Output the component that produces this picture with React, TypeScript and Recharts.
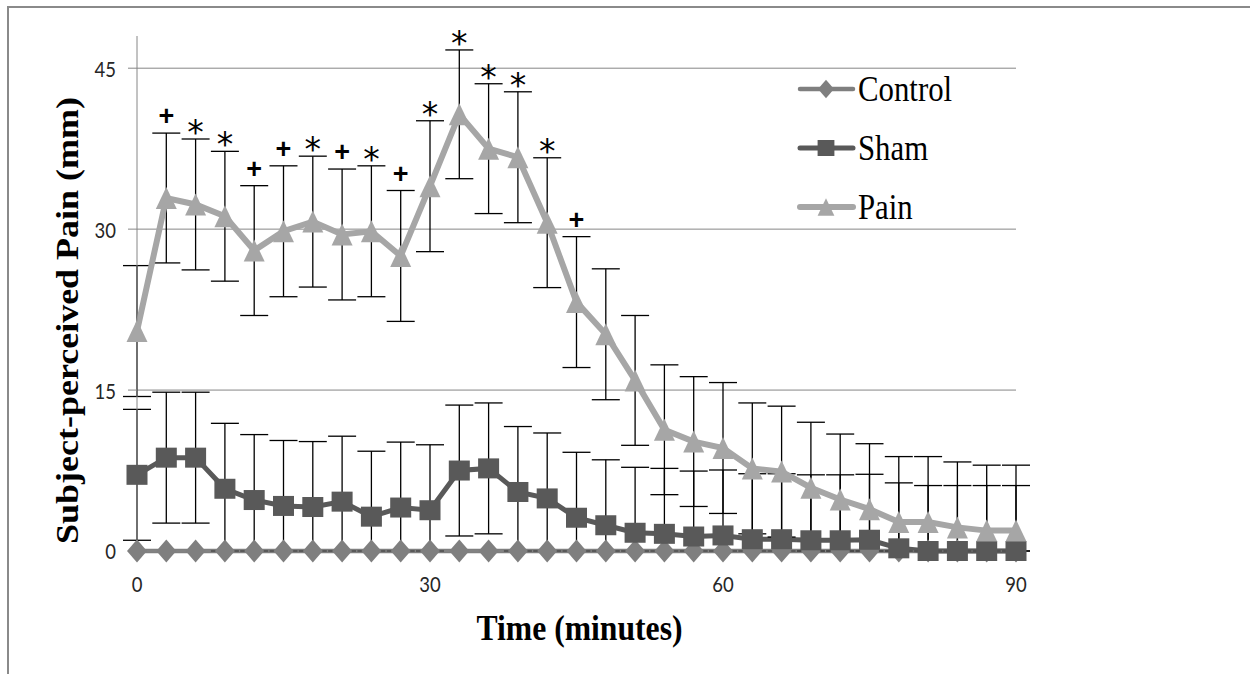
import React from 'react';
import { LineChart, Line, XAxis, YAxis, CartesianGrid, ErrorBar, LabelList, Legend } from 'recharts';

const minutes = [0, 3, 6, 9, 12, 15, 18, 21, 24, 27, 30, 33, 36, 39, 42, 45, 48, 51, 54, 57, 60, 63, 66, 69, 72, 75, 78, 81, 84, 87, 90];
const control = [0, 0, 0, 0, 0, 0, 0, 0, 0, 0, 0, 0, 0, 0, 0, 0, 0, 0, 0, 0, 0, 0, 0, 0, 0, 0, 0, 0, 0, 0, 0];
const sham = [7.1, 8.7, 8.7, 5.8, 4.75, 4.2, 4.1, 4.6, 3.2, 4.05, 3.8, 7.5, 7.7, 5.5, 4.9, 3.1, 2.4, 1.7, 1.6, 1.35, 1.45, 1.1, 1.1, 1.0, 1.0, 1.05, 0.25, 0, 0, 0, 0];
const shamSd = [6.1, 6.1, 6.1, 6.1, 6.1, 6.1, 6.1, 6.1, 6.1, 6.1, 6.1, 6.1, 6.1, 6.1, 6.1, 6.1, 6.1, 6.1, 6.1, 6.1, 6.1, 6.1, 6.1, 6.1, 6.1, 6.1, 6.1, 6.1, 6.1, 6.1, 6.1];
const pain = [20.5, 32.9, 32.3, 31.2, 28.0, 29.8, 30.7, 29.5, 29.8, 27.5, 34.0, 40.7, 37.5, 36.7, 30.6, 23.2, 20.2, 15.9, 11.3, 10.2, 9.6, 7.7, 7.4, 5.9, 4.8, 3.9, 2.7, 2.7, 2.2, 1.9, 1.9];
const painSd = [6.1, 6.05, 6.1, 6.05, 6.05, 6.1, 6.1, 6.1, 6.1, 6.1, 6.1, 6.0, 6.05, 6.1, 6.05, 6.1, 6.1, 6.05, 6.05, 6.05, 6.1, 6.1, 6.1, 6.1, 6.1, 6.1, 6.1, 6.1, 6.1, 6.1, 6.1];
const marks = ['', '+', '*', '*', '+', '+', '*', '+', '*', '+', '*', '*', '*', '*', '*', '+', '', '', '', '', '', '', '', '', '', '', '', '', '', '', ''];
const xTicks = [0, 30, 60, 90];
const yTicks = [0, 15, 30, 45];
const gridValues = [15, 30, 45];
const seriesNames = ['Control', 'Sham', 'Pain'];

const data = minutes.map((m, i) => ({
  m,
  control: control[i],
  sham: sham[i],
  shamErr: [Math.min(sham[i], shamSd[i]), shamSd[i]],
  pain: pain[i],
  painErr: [Math.min(pain[i], painSd[i]), painSd[i]],
  markY: marks[i] ? pain[i] + painSd[i] : null,
  mark: marks[i],
}));

const C_CONTROL = '#7f7f7f';
const C_SHAM = '#595959';
const C_PAIN = '#a6a6a6';
const AXIS = '#868686';
const SERIF = '"Liberation Serif", "Times New Roman", serif';
const SANS = 'Lato, "Open Sans", sans-serif';

const diamond = (cx: number, cy: number, key?: any) => (
  <path key={key} d={`M${cx},${cy - 11.5} L${cx + 10},${cy} L${cx},${cy + 11.5} L${cx - 10},${cy} Z`} fill={C_CONTROL} />
);
const square = (cx: number, cy: number, key?: any) => (
  <rect key={key} x={cx - 10.5} y={cy - 10} width={21} height={20} fill={C_SHAM} />
);
const triangle = (cx: number, cy: number, key?: any) => (
  <path key={key} d={`M${cx},${cy - 11} L${cx + 10.5},${cy + 11} L${cx - 10.5},${cy + 11} Z`} fill={C_PAIN} />
);

const DiamondDot = (p: any) => (p.cx == null || p.cy == null ? <g key={`cd-${p.index}`} /> : diamond(p.cx, p.cy, `cd-${p.index}`));
const SquareDot = (p: any) => (p.cx == null || p.cy == null ? <g key={`sd-${p.index}`} /> : square(p.cx, p.cy, `sd-${p.index}`));
const TriangleDot = (p: any) => (p.cx == null || p.cy == null ? <g key={`pd-${p.index}`} /> : triangle(p.cx, p.cy, `pd-${p.index}`));

const YTick = (p: any) => (
  <g transform={`translate(${p.x - 10},${p.y})`}>
    <text transform="scale(0.88,1)" textAnchor="end" dominantBaseline="central" fontFamily={SANS} fontSize={21} fill="#262626">
      {p.payload.value}
    </text>
  </g>
);

const XTick = (p: any) => (
  <g transform={`translate(${p.x},${p.y})`}>
    <text transform="scale(0.88,1)" textAnchor="middle" dominantBaseline="central" y={25} fontFamily={SANS} fontSize={21} fill="#262626">
      {p.payload.value}
    </text>
  </g>
);

const XTitle = (p: any) => {
  const vb = p.viewBox || { x: 0, y: 0, width: 0, height: 0 };
  const cx = vb.x + vb.width / 2 + 3;
  const cy = vb.y + 77;
  return (
    <text transform={`translate(${cx},${cy}) scale(0.88,1)`} textAnchor="middle" dominantBaseline="central" fontFamily={SERIF} fontWeight="bold" fontSize={36} fill="#000">
      Time (minutes)
    </text>
  );
};

const YTitle = (p: any) => {
  const vb = p.viewBox || { x: 0, y: 0, width: 0, height: 0 };
  const cx = vb.x - 10;
  const cy = vb.y + vb.height / 2 + 27;
  return (
    <text transform={`translate(${cx},${cy}) scale(0.88,1) rotate(-90)`} textAnchor="middle" dominantBaseline="central" fontFamily={SERIF} fontWeight="bold" fontSize={36} fill="#000">
      Subject-perceived Pain (mm)
    </text>
  );
};

const MarkLabel = (p: any) => {
  if (!p.value || p.x == null || p.y == null) return null;
  if (p.value === '+') {
    return (
      <text x={p.x} y={p.y - 8} textAnchor="middle" fontFamily='"Liberation Sans", Arial, sans-serif' fontWeight="bold" fontSize={27} fill="#000">
        +
      </text>
    );
  }
  return (
    <text x={p.x} y={p.y + 5} textAnchor="middle" fontFamily='"DejaVu Sans", sans-serif' fontSize={33} fill="#000">
      *
    </text>
  );
};

const LegendContent = () => {
  const rows = [
    { name: seriesNames[0], color: C_CONTROL, w: 4.5, m: diamond },
    { name: seriesNames[1], color: C_SHAM, w: 5, m: square },
    { name: seriesNames[2], color: C_PAIN, w: 6, m: triangle },
  ];
  return (
    <svg width={180} height={180}>
      {rows.map((r, i) => {
        const y = 30 + i * 59;
        return (
          <g key={r.name}>
            <line x1={5} x2={58} y1={y} y2={y} stroke={r.color} strokeWidth={r.w} strokeLinecap="round" />
            <g transform={`translate(31,${y}) scale(0.8) translate(-31,${-y})`}>{r.m(31, y)}</g>
            <text transform={`translate(63,${y + 12}) scale(0.88,1)`} fontFamily={SERIF} fontSize={35} fill="#000">
              {r.name}
            </text>
          </g>
        );
      })}
    </svg>
  );
};

export default function App() {
  return (
    <div style={{ position: 'fixed', left: 0, top: 0, width: 1250, height: 674, overflow: 'hidden', background: '#fff' }}>
      <div style={{ position: 'absolute', left: 7, top: 6, width: 1300, height: 700, borderLeft: '2px solid #8a8a8a', borderTop: '2px solid #8a8a8a' }} />
      <div style={{ position: 'absolute', left: 0, top: 0 }}>
        <LineChart width={1250} height={674} data={data} margin={{ top: 36, right: 234, bottom: 93, left: 77 }}>
          <CartesianGrid vertical={false} horizontalValues={gridValues} stroke={AXIS} strokeWidth={1} />
          <XAxis
            dataKey="m"
            type="number"
            domain={[0, 90]}
            ticks={xTicks}
            interval={0}
            tickLine={false}
            axisLine={{ stroke: AXIS }}
            height={30}
            tick={<XTick />}
            label={{ content: <XTitle /> }}
          />
          <YAxis
            type="number"
            domain={[0, 48]}
            ticks={yTicks}
            interval={0}
            width={60}
            tickSize={9}
            tickLine={{ stroke: AXIS }}
            axisLine={{ stroke: AXIS }}
            tick={<YTick />}
            label={{ content: <YTitle /> }}
          />
          <Legend layout="vertical" align="center" verticalAlign="middle" content={<LegendContent />} wrapperStyle={{ position: 'absolute', left: 795, top: 59, width: 180, height: 180 }} />
          <Line name={seriesNames[0]} dataKey="control" type="linear" stroke={C_CONTROL} strokeWidth={4.5} dot={DiamondDot} activeDot={false} isAnimationActive={false} />
          <Line name={seriesNames[1]} dataKey="sham" type="linear" stroke={C_SHAM} strokeWidth={5} dot={SquareDot} activeDot={false} isAnimationActive={false}>
            <ErrorBar dataKey="shamErr" direction="y" width={14} stroke="#000" strokeWidth={1.3} />
          </Line>
          <Line name={seriesNames[2]} dataKey="pain" type="linear" stroke={C_PAIN} strokeWidth={6} dot={TriangleDot} activeDot={false} isAnimationActive={false}>
            <ErrorBar dataKey="painErr" direction="y" width={14} stroke="#000" strokeWidth={1.3} />
          </Line>
          <Line dataKey="markY" type="linear" stroke="none" dot={false} activeDot={false} legendType="none" isAnimationActive={false} connectNulls={false}>
            <LabelList dataKey="mark" content={<MarkLabel />} />
          </Line>
        </LineChart>
      </div>
    </div>
  );
}
